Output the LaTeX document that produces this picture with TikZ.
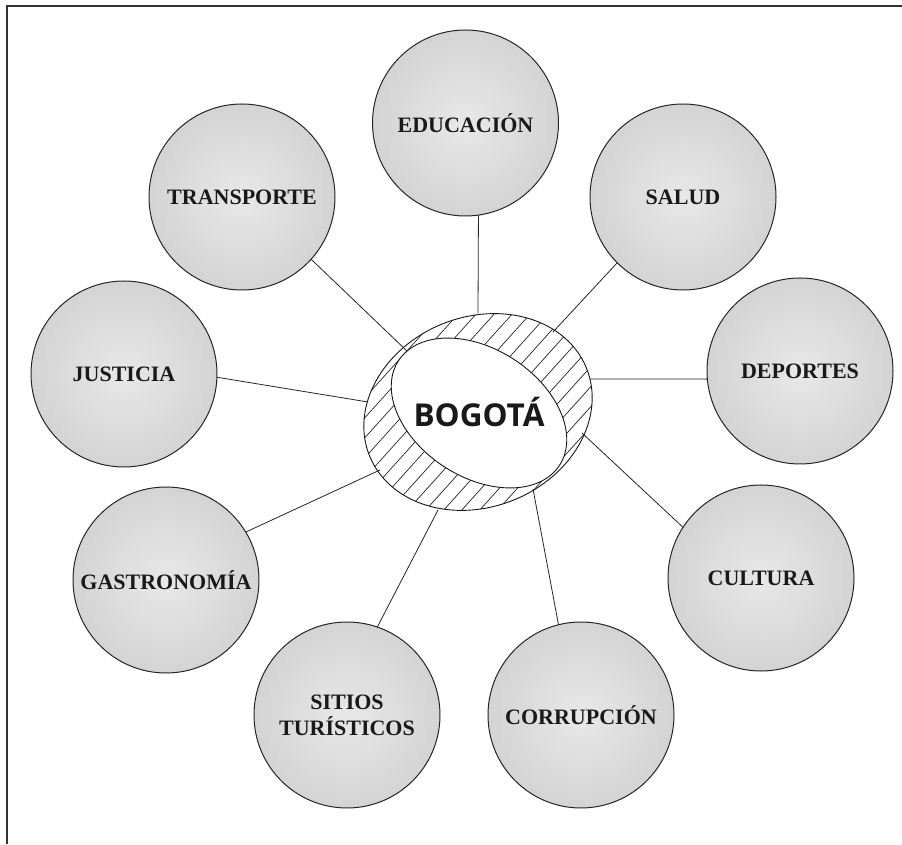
\documentclass[tikz,border=0pt]{standalone}
\usepackage{fontspec}
\setmainfont{Liberation Serif}
\newfontfamily\bogfont{Open Sans}
\begin{document}
\begin{tikzpicture}[x=1pt,y=1pt,
  topic/.style={circle, draw=black!85, line width=1pt, minimum size=186pt,
    inner sep=0pt, outer sep=0pt, shading=radial, inner color=black!9,
    outer color=black!17, font=\fontsize{22}{26}\selectfont\bfseries,
    text=black!90, align=center},
  link/.style={line width=0.8pt, draw=black!85},
  hatchline/.style={line width=0.7pt, draw=black!85},
  ringline/.style={line width=0.9pt, draw=black!90},
  frameline/.style={line width=2.5pt, draw=black!80}]
\useasboundingbox (0,0) rectangle (902,844);
\draw[frameline] (7,0) -- (7,838) -- (902,838);

% ring end points of the connectors
\coordinate (ee) at (478,531);
\coordinate (es) at (553,512);
\coordinate (ed) at (590,465);
\coordinate (ec) at (582,411);
\coordinate (eco) at (533,355);
\coordinate (esi) at (438,334);
\coordinate (eg) at (380,374);
\coordinate (ej) at (368,442);
\coordinate (et) at (408,492);

% topic circles
\node[topic] (educ) at (465.5,721) {EDUCACIÓN};
\node[topic] (salud) at (683,647) {SALUD};
\node[topic] (dep) at (800,473) {DEPORTES};
\node[topic] (cult) at (761,266) {CULTURA};
\node[topic] (corr) at (581,129) {CORRUPCIÓN};
\node[topic] (sit) at (347,129) {SITIOS\\TURÍSTICOS};
\node[topic] (gast) at (166,264) {GASTRONOMÍA};
\node[topic] (just) at (124,470) {JUSTICIA};
\node[topic] (trans) at (242,647) {TRANSPORTE};

% connectors
\draw[link] (ee) -- (educ.-82);
\draw[link] (es) -- (salud.225);
\draw[link] (ed) -- (dep.185);
\draw[link] (ec) -- (cult.147);
\draw[link] (eco) -- (corr.104);
\draw[link] (esi) -- (sit.71);
\draw[link] (eg) -- (gast.31);
\draw[link] (ej) -- (just.-2);
\draw[link] (et) -- (trans.-42);

% hatched ring
\begin{scope}
  \clip[rotate around={22:(478,432)}] (478,432) ellipse [x radius=117pt, y radius=95pt];
  \foreach \i in {-13,...,13}
    \draw[hatchline] ({478+\i*18-180},232) -- ({478+\i*18+180},632);
  \fill[white, rotate around={-33:(479,431)}] (479,431) ellipse [x radius=96pt, y radius=64pt];
\end{scope}
\begin{scope}
  \clip[rotate around={22:(478,432)}] (478,432) ellipse [x radius=117.5pt, y radius=95.5pt];
  \draw[ringline, rotate around={-33:(479,431)}] (479,431) ellipse [x radius=96pt, y radius=64pt];
\end{scope}
\draw[ringline, rotate around={22:(478,432)}] (478,432) ellipse [x radius=117pt, y radius=95pt];

\node[anchor=base, inner sep=0pt, font=\bogfont\bfseries\fontsize{31.5}{38}\selectfont, text=black!90] (bog) at (479,417) {BOGOTÁ};
\end{tikzpicture}
\end{document}
